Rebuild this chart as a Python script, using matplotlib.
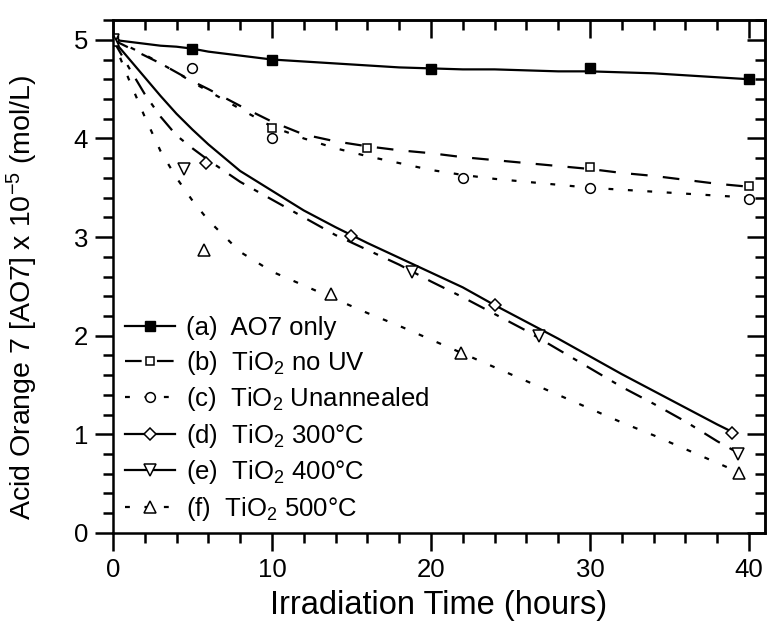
import numpy as np
import matplotlib
matplotlib.use("Agg")
import matplotlib.pyplot as plt
from matplotlib.ticker import MultipleLocator

plt.rcParams['font.family'] = ['Liberation Sans', 'DejaVu Sans']
plt.rcParams['mathtext.fontset'] = 'custom'
plt.rcParams['mathtext.rm'] = 'Liberation Sans'
plt.rcParams['mathtext.it'] = 'Liberation Sans'
plt.rcParams['lines.scale_dashes'] = False

# measured points
t_a = [0, 5, 10, 20, 30, 40]
c_a = [5.0, 4.91, 4.80, 4.70, 4.71, 4.60]
t_b = [0, 10, 16, 30, 40]
c_b = [5.0, 4.11, 3.90, 3.71, 3.52]
t_c = [0, 5, 10, 22, 30, 40]
c_c = [5.0, 4.71, 4.00, 3.60, 3.50, 3.39]
t_d = [0, 5.85, 15.0, 24.0, 38.9]
c_d = [5.0, 3.75, 3.01, 2.31, 1.01]
t_e = [0, 4.5, 18.8, 26.8, 39.3]
c_e = [5.0, 3.69, 2.65, 2.00, 0.80]
t_f = [0, 5.7, 13.7, 21.9, 39.4]
c_f = [5.0, 2.87, 2.42, 1.82, 0.61]

# fitted curves
fit_t = [0, 1, 2, 3, 4, 5, 6, 8, 10, 12, 14, 16, 18, 20, 22, 24, 26, 28, 30, 32, 34, 36, 38, 40]
fit_a = [5.0, 4.98, 4.96, 4.94, 4.93, 4.91, 4.88, 4.84, 4.80, 4.78, 4.76, 4.74, 4.72, 4.71, 4.70, 4.70, 4.69, 4.68, 4.68, 4.67, 4.66, 4.64, 4.62, 4.60]
fit_b = [5.0, 4.92, 4.84, 4.76, 4.67, 4.58, 4.50, 4.33, 4.17, 4.04, 3.97, 3.92, 3.88, 3.85, 3.81, 3.78, 3.75, 3.72, 3.69, 3.65, 3.62, 3.58, 3.54, 3.51]
fit_c = [5.0, 4.93, 4.85, 4.76, 4.67, 4.57, 4.48, 4.30, 4.12, 4.00, 3.90, 3.82, 3.75, 3.68, 3.63, 3.59, 3.56, 3.53, 3.50, 3.48, 3.46, 3.44, 3.42, 3.40]

fit_t2 = [0, 1, 2, 3, 4, 5, 6, 8, 10, 12, 14, 16, 18, 20, 22, 24, 26, 28, 30, 32, 34, 36, 38, 39]
fit_d = [5.0, 4.81, 4.62, 4.43, 4.25, 4.09, 3.94, 3.67, 3.47, 3.27, 3.10, 2.94, 2.79, 2.64, 2.49, 2.31, 2.14, 1.97, 1.79, 1.61, 1.44, 1.27, 1.10, 1.02]
fit_e = [5.0, 4.72, 4.45, 4.22, 4.03, 3.90, 3.78, 3.56, 3.38, 3.20, 3.02, 2.87, 2.72, 2.55, 2.39, 2.22, 2.05, 1.86, 1.67, 1.48, 1.31, 1.13, 0.93, 0.84]
fit_f = [5.0, 4.60, 4.22, 3.87, 3.60, 3.37, 3.17, 2.85, 2.65, 2.51, 2.37, 2.23, 2.10, 1.96, 1.82, 1.68, 1.54, 1.40, 1.26, 1.12, 0.99, 0.85, 0.71, 0.64]

labels = ['(a)  AO7 only', '(b)  TiO$_2$ no UV', '(c)  TiO$_2$ Unannealed',
          '(d)  TiO$_2$ 300\u00b0C', '(e)  TiO$_2$ 400\u00b0C', '(f)  TiO$_2$ 500\u00b0C']

dash_b = (0, (12, 11))
dot_c = (0, (3.5, 10.5))
dash_e = (0, (13, 8, 3.5, 8))
lw = 1.6

fig = plt.figure(figsize=(7.68, 6.27), dpi=100)
ax = fig.add_axes([0.147, 0.150, 0.849, 0.818])

ax.plot(fit_t, fit_a, color='black', lw=lw, ls='-')
ax.plot(fit_t, fit_b, color='black', lw=lw, ls=dash_b)
ax.plot(fit_t, fit_c, color='black', lw=lw, ls=dot_c)
ax.plot(fit_t2, fit_d, color='black', lw=lw, ls='-')
ax.plot(fit_t2, fit_e, color='black', lw=lw, ls=dash_e)
ax.plot(fit_t2, fit_f, color='black', lw=lw, ls=dot_c)

mk = dict(color='black', mec='black', mew=1.1, ms=7, ls='none')
ax.plot(t_a, c_a, marker='s', mfc='black', ms=6.5, color='black', ls='none')
ax.plot(t_b, c_b, marker='s', mfc='white', **dict(mk, ms=6))
ax.plot(t_c, c_c, marker='o', mfc='white', **mk)
ax.plot(t_d, c_d, marker='D', mfc='white', **dict(mk, ms=6))
ax.plot(t_e, c_e, marker='v', mfc='white', **dict(mk, ms=8))
ax.plot(t_f, c_f, marker='^', mfc='white', **dict(mk, ms=8))

# legend proxies
h = []
h += ax.plot([], [], color='black', lw=lw, ls='-', marker='s', mfc='black', mec='black', ms=6.5)
h += ax.plot([], [], color='black', lw=lw, ls=dash_b, marker='s', mfc='white', mec='black', mew=1.1, ms=6)
h += ax.plot([], [], color='black', lw=lw, ls=dot_c, marker='o', mfc='white', mec='black', mew=1.1, ms=7)
h += ax.plot([], [], color='black', lw=lw, ls='-', marker='D', mfc='white', mec='black', mew=1.1, ms=6)
h += ax.plot([], [], color='black', lw=lw, ls='-', marker='v', mfc='white', mec='black', mew=1.1, ms=8)
h += ax.plot([], [], color='black', lw=lw, ls=dot_c, marker='^', mfc='white', mec='black', mew=1.1, ms=8)
leg = ax.legend(h, labels, loc='lower left', bbox_to_anchor=(0.003, 0.0), frameon=False,
                fontsize=18.5, handlelength=1.95, handletextpad=0.4, labelspacing=0.33,
                borderaxespad=0)

ax.set_xlim(0, 41)
ax.set_ylim(0, 5.2)
ax.xaxis.set_major_locator(MultipleLocator(10))
ax.xaxis.set_minor_locator(MultipleLocator(2))
ax.yaxis.set_major_locator(MultipleLocator(1))
ax.yaxis.set_minor_locator(MultipleLocator(0.2))
for s in ax.spines.values():
    s.set_linewidth(1.8)

ax.tick_params(which='both', direction='out', width=1.8, labelsize=18.5, top=False, right=False)
ax.tick_params(which='major', length=13, pad=5)
ax.tick_params(which='minor', length=7)

# mirrored inward ticks on top and right
ax2 = ax.secondary_xaxis('top')
ax2.xaxis.set_major_locator(MultipleLocator(10))
ax2.xaxis.set_minor_locator(MultipleLocator(2))
ax2.tick_params(which='both', direction='in', width=1.8, labeltop=False)
ax2.tick_params(which='major', length=13)
ax2.tick_params(which='minor', length=7)
ax3 = ax.secondary_yaxis('right')
ax3.yaxis.set_major_locator(MultipleLocator(1))
ax3.yaxis.set_minor_locator(MultipleLocator(0.2))
ax3.tick_params(which='both', direction='in', width=1.8, labelright=False)
ax3.tick_params(which='major', length=13)
ax3.tick_params(which='minor', length=7)
for s in list(ax2.spines.values()) + list(ax3.spines.values()):
    s.set_linewidth(1.8)

ax.set_xlabel('Irradiation Time (hours)', fontsize=23.5, labelpad=6)
ax.set_ylabel('Acid Orange 7 [AO7] x 10$^{-5}$ (mol/L)', fontsize=20.5)
ax.yaxis.set_label_coords(-0.112, 0.46)

fig.savefig('out.png', dpi=100)
